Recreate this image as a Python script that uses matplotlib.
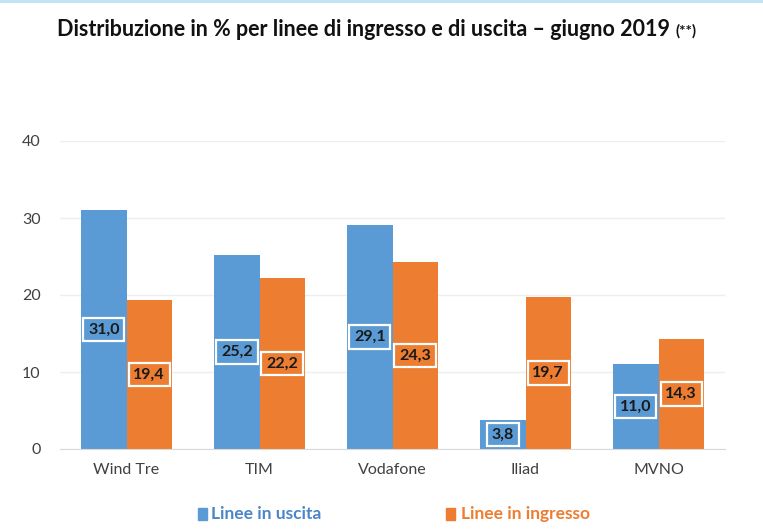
import matplotlib
matplotlib.use("Agg")
import matplotlib.pyplot as plt
import numpy as np
from matplotlib.lines import Line2D

categories = ["Wind Tre", "TIM", "Vodafone", "Iliad", "MVNO"]
uscita = [31.0, 25.2, 29.1, 3.8, 11.0]
ingresso = [19.4, 22.2, 24.3, 19.7, 14.3]
series_names = ["Linee in uscita", "Linee in ingresso"]
yticks = [0, 10, 20, 30, 40]

BLUE = "#5B9BD5"
ORANGE = "#ED7D31"
FONT = ["Lato", "DejaVu Sans"]
plt.rcParams["font.family"] = FONT

fig = plt.figure(figsize=(7.63, 5.30), dpi=100)
ax = fig.add_axes([60/763, 1-449/530, 665/763, 308/530])

x = np.arange(len(categories))
w = 0.34
b1 = ax.bar(x - w/2, uscita, w, color=BLUE, zorder=2)
b2 = ax.bar(x + w/2, ingresso, w, color=ORANGE, zorder=2)

def fmt(v):
    return f"{v:.1f}".replace(".", ",")

for bars, vals, col in ((b1, uscita, BLUE), (b2, ingresso, ORANGE)):
    for r, v in zip(bars, vals):
        ax.text(r.get_x() + r.get_width()/2, v/2, fmt(v), ha="center", va="center",
                fontsize=11.5, fontweight="bold", color="#1a1a1a", zorder=3,
                bbox=dict(boxstyle="square,pad=0.3", fc=col, ec="white", lw=1.6))

ax.set_xlim(-0.5, len(categories) - 0.5)
ax.set_ylim(0, 40)
ax.set_yticks(yticks)
ax.set_xticks(x)
ax.set_xticklabels(categories)
ax.tick_params(axis="both", length=0, labelsize=11.5, colors="#404040")
ax.tick_params(axis="x", pad=10)
ax.tick_params(axis="y", pad=14)
ax.yaxis.grid(True, color="#eeeeee", lw=1, zorder=0)
for s in ("top", "right", "left"):
    ax.spines[s].set_visible(False)
ax.spines["bottom"].set_color("#d9d9d9")

# Title
t = fig.text(57/763, 1-30/530, "Distribuzione in % per linee di ingresso e di uscita \u2013 giugno 2019",
             fontsize=15.5, fontweight="bold", color="#111111", ha="left", va="center")
fig.canvas.draw()
bb = t.get_window_extent()
fig.text((bb.x1 + 6)/763, 1-31/530, "(**)", fontsize=11, fontweight="bold",
         color="#111111", ha="left", va="center")

# Legend
fig.patches.append(plt.Rectangle((198/763, 1-520/530), 9/763, 12/530, color=BLUE,
                                 transform=fig.transFigure, figure=fig))
fig.text(211/763, 1-514/530, series_names[0], fontsize=12.5, fontweight="bold",
         color="#4A86C8", ha="left", va="center")
fig.patches.append(plt.Rectangle((446/763, 1-520/530), 9/763, 12/530, color=ORANGE,
                                 transform=fig.transFigure, figure=fig))
fig.text(461/763, 1-514/530, series_names[1], fontsize=12.5, fontweight="bold",
         color=ORANGE, ha="left", va="center")

# top border line
fig.add_artist(Line2D([0, 1], [1-1/530, 1-1/530], transform=fig.transFigure,
                      color="#BDE3F2", lw=2))

fig.savefig("out.png", dpi=100)
